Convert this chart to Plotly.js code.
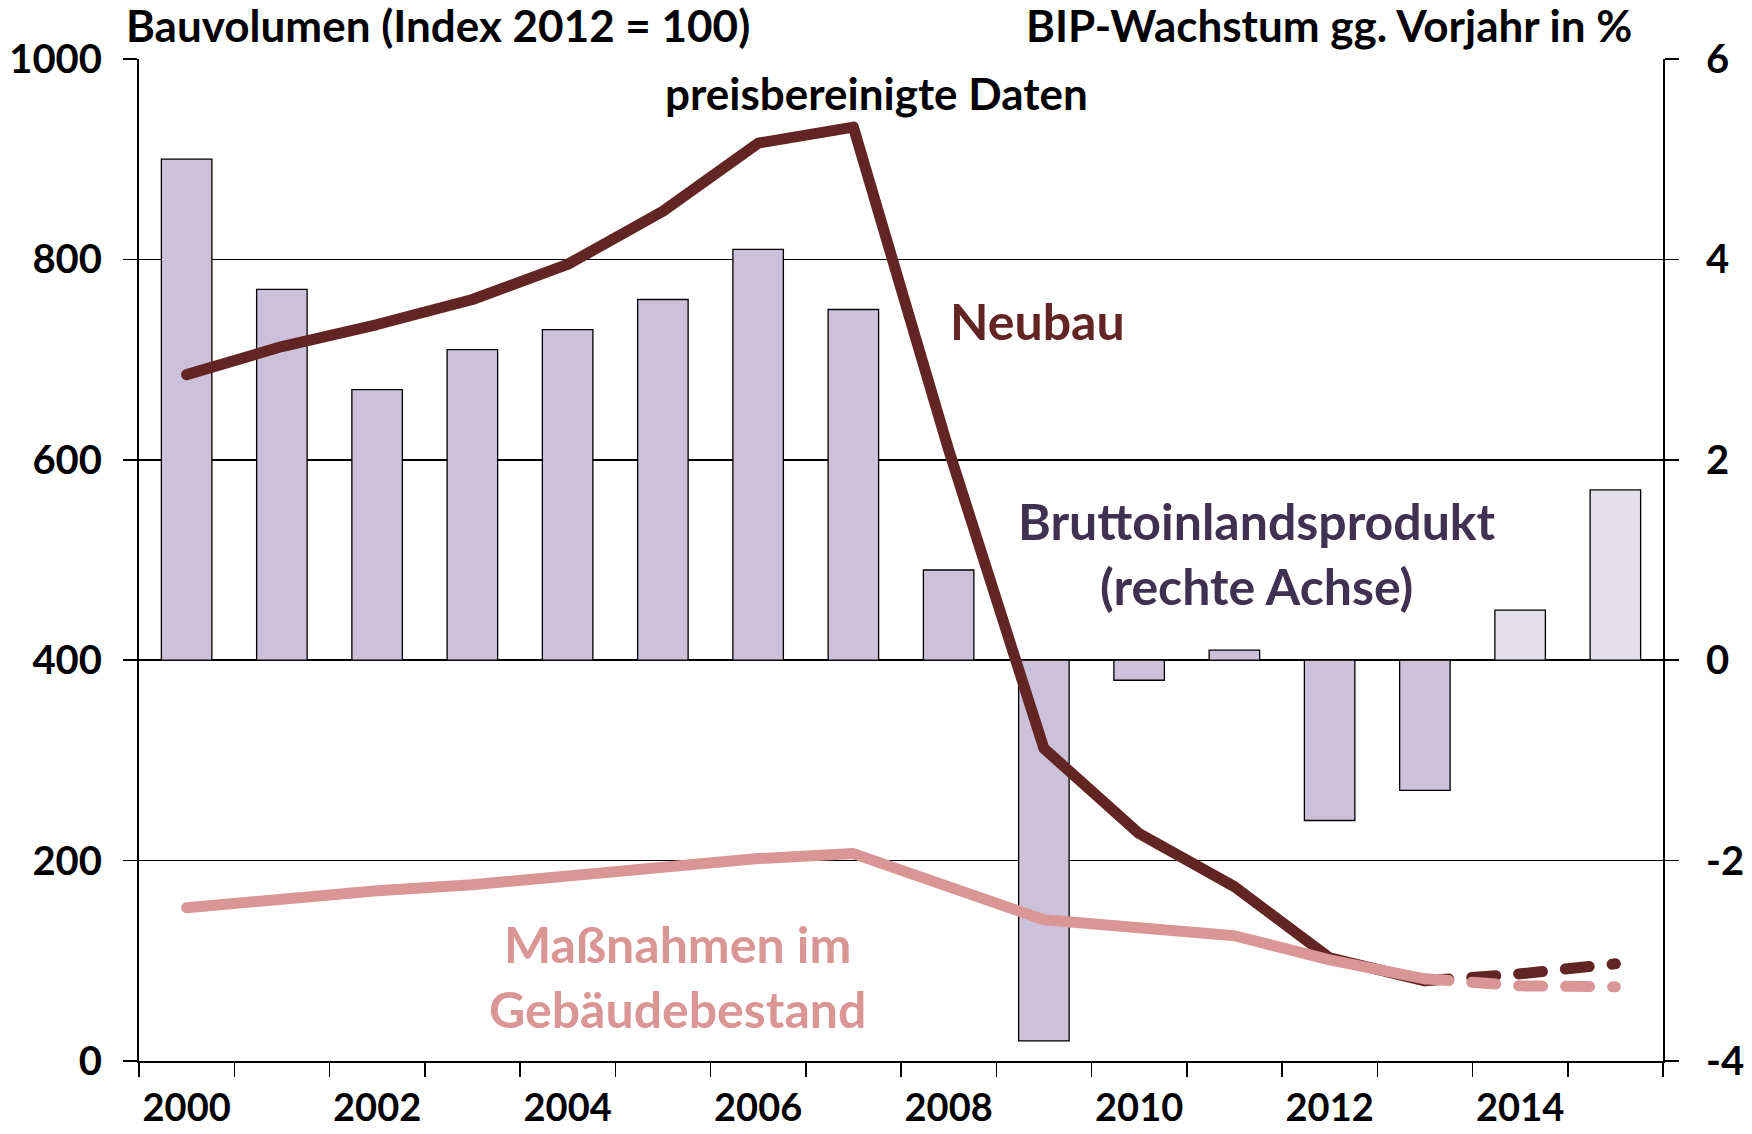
<!DOCTYPE html>
<html>
<head>
<meta charset="utf-8">
<script src="https://cdn.plot.ly/plotly-3.0.1.min.js"></script>
<style>
  html, body { margin: 0; padding: 0; background: #fff; }
  #chart { width: 1752px; height: 1134px; }
  .scatterlayer .js-line { stroke-linecap: round; stroke-linejoin: round; }
</style>
</head>
<body>
<div id="chart"></div>
<script>
// ---- data ----
const years = ["2000","2001","2002","2003","2004","2005","2006","2007","2008","2009","2010","2011","2012","2013","2014","2015"];
const xTickText = ["2000","","2002","","2004","","2006","","2008","","2010","","2012","","2014",""];
// BIP-Wachstum gg. Vorjahr in % (rechte Achse)
const bip = [5.0, 3.7, 2.7, 3.1, 3.3, 3.6, 4.1, 3.5, 0.9, -3.8, -0.2, 0.1, -1.6, -1.3, 0.5, 1.7];
const bipForecast = [false,false,false,false,false,false,false,false,false,false,false,false,false,false,true,true];
// Bauvolumen Neubau (Index)
const neubau = [685, 713, 735, 760, 795, 848, 916, 932, 610, 312, 227, 174, 103, 80, 87, 97];
// Bauvolumen Maßnahmen im Gebäudebestand (Index)
const bestand = [153, 162, 170, 176, 184, 193, 202, 207, 175, 141, 133, 125, 101, 82, 75, 74];
const leftTicks = [0, 200, 400, 600, 800, 1000];
const rightTickVals = [-4, -2, 0, 2, 4, 6];
const rightTickText = ["-4", "-2", "0", "2", "4", "6"];
const lastActual = 13; // index of 2013

// ---- styles ----
const FONT = "Lato, 'Open Sans', sans-serif";
const barColor = "#CCC1DA";
const barColorFc = "#E4DFEC";
const neubauColor = "#632523";
const bestandColor = "#D99694";
const bipTextColor = "#403152";
const LW = 11;

const traces = [
  {
    type: "bar", x: years, y: bip, yaxis: "y",
    marker: { color: bipForecast.map(f => f ? barColorFc : barColor), line: { color: "#000", width: 1.3 } }
  },
  {
    type: "scatter", mode: "lines", yaxis: "y2", x: years.slice(0, lastActual + 1), y: neubau.slice(0, lastActual + 1),
    line: { color: neubauColor, width: LW }
  },
  {
    type: "scatter", mode: "lines", yaxis: "y2", x: years.slice(lastActual), y: neubau.slice(lastActual),
    line: { color: neubauColor, width: LW, dash: "24px,23px" }
  },
  {
    type: "scatter", mode: "lines", yaxis: "y2", x: years.slice(0, lastActual + 1), y: bestand.slice(0, lastActual + 1),
    line: { color: bestandColor, width: LW }
  },
  {
    type: "scatter", mode: "lines", yaxis: "y2", x: years.slice(lastActual), y: bestand.slice(lastActual),
    line: { color: bestandColor, width: LW, dash: "24px,23px" }
  }
];

const W = 1524, H = 1002, L = 139, T = 59;
const px = x => (x - L) / W;
const py = y => (T + H - y) / H;

const tickFont = { family: FONT, size: 40, color: "#000", weight: "bold" };

const layout = {
  width: 1752, height: 1134,
  margin: { l: 139, r: 89, t: 59, b: 73, pad: 0 },
  paper_bgcolor: "#fff", plot_bgcolor: "#fff",
  showlegend: false,
  bargap: 0.47,
  font: { family: FONT, color: "#000", size: 40 },
  xaxis: {
    type: "category",
    tickvals: years, ticktext: xTickText,
    tickson: "boundaries", tickangle: 0,
    ticks: "outside", ticklen: 14, tickwidth: 1.5, tickcolor: "#000",
    ticklabelstandoff: 12,
    showline: true, linecolor: "#000", linewidth: 2,
    showgrid: false, zeroline: false,
    tickfont: { family: FONT, size: 38, color: "#000", weight: "bold" },
    range: [-0.5, 15.5]
  },
  // bars: right axis (primary, carries the grid)
  yaxis: {
    side: "right",
    range: [-4, 6], tickvals: rightTickVals, ticktext: rightTickText,
    ticks: "outside", ticklen: 14, tickwidth: 1.5, tickcolor: "#000",
    ticklabelstandoff: 19,
    showline: true, linecolor: "#000", linewidth: 2,
    showgrid: true, gridcolor: "#000", gridwidth: 1.5,
    zeroline: false,
    tickfont: tickFont
  },
  // lines: left axis
  yaxis2: {
    overlaying: "y", side: "left",
    range: [0, 1000], tickvals: leftTicks,
    ticks: "outside", ticklen: 14, tickwidth: 1.5, tickcolor: "#000",
    ticklabelstandoff: 13,
    showline: true, linecolor: "#000", linewidth: 2,
    showgrid: false, zeroline: false,
    tickfont: tickFont
  },
  annotations: [
    { text: "Bauvolumen (Index 2012 = 100)", xref: "paper", yref: "paper", x: px(124), y: py(25),
      xanchor: "left", yanchor: "middle", showarrow: false,
      font: { family: FONT, size: 44, color: "#000", weight: "bold" } },
    { text: "BIP-Wachstum gg. Vorjahr in %", xref: "paper", yref: "paper", x: px(1634), y: py(25),
      xanchor: "right", yanchor: "middle", showarrow: false,
      font: { family: FONT, size: 44, color: "#000", weight: "bold" } },
    { text: "preisbereinigte Daten", xref: "paper", yref: "paper", x: px(876), y: py(93),
      xanchor: "center", yanchor: "middle", showarrow: false,
      font: { family: FONT, size: 44, color: "#000", weight: "bold" } },
    { text: "Neubau", xref: "paper", yref: "paper", x: px(1037), y: py(321),
      xanchor: "center", yanchor: "middle", showarrow: false,
      font: { family: FONT, size: 50, color: neubauColor, weight: "bold" } },
    { text: "Bruttoinlandsprodukt<br>(rechte Achse)", xref: "paper", yref: "paper", x: px(1257), y: py(553),
      xanchor: "center", yanchor: "middle", showarrow: false,
      font: { family: FONT, size: 50, color: bipTextColor, weight: "bold" } },
    { text: "Maßnahmen im<br>Gebäudebestand", xref: "paper", yref: "paper", x: px(677), y: py(976),
      xanchor: "center", yanchor: "middle", showarrow: false,
      font: { family: FONT, size: 50, color: bestandColor, weight: "bold" } }
  ]
};

Plotly.newPlot("chart", traces, layout, { displayModeBar: false, staticPlot: true });
</script>
</body>
</html>
